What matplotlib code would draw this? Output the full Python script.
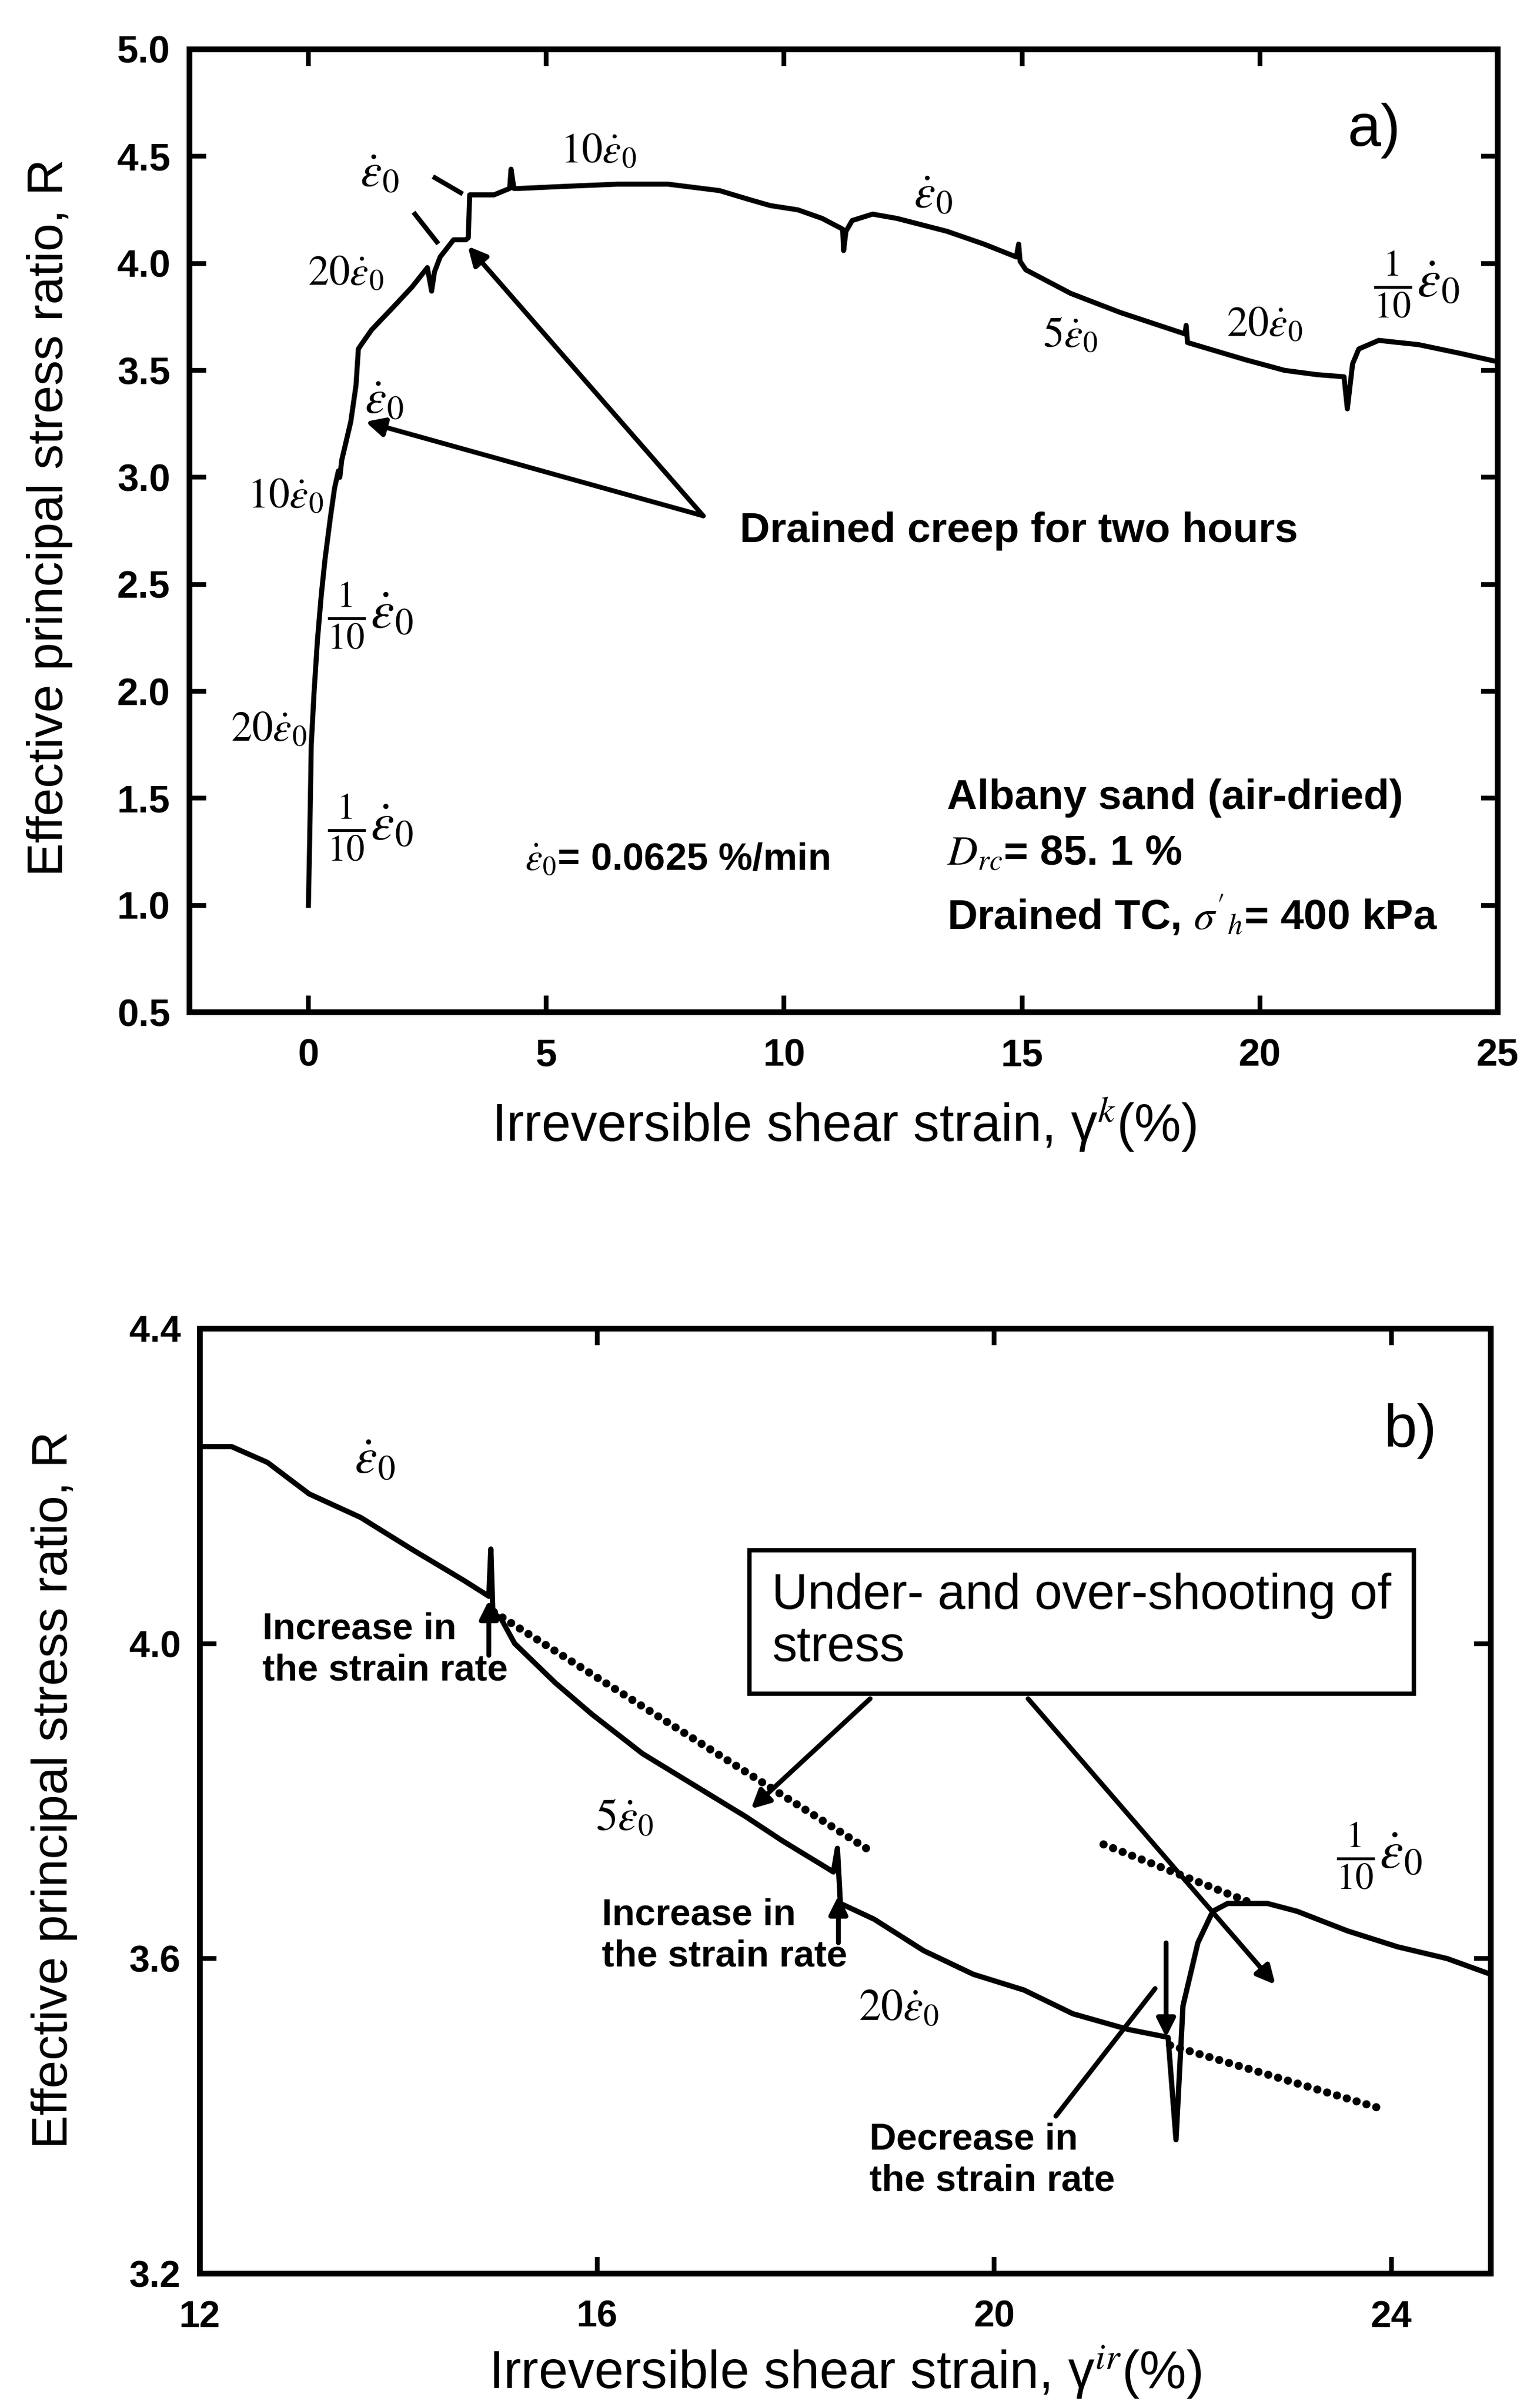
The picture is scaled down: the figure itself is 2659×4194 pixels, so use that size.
import matplotlib
matplotlib.use('Agg')
import matplotlib.pyplot as plt

plt.rcParams['font.family'] = 'Liberation Sans'
plt.rcParams['mathtext.fontset'] = 'stix'

# ---- (a) full test: irreversible shear strain (%) vs stress ratio R
a_strain = [0.00, 0.03, 0.06, 0.12, 0.19, 0.27, 0.35, 0.46, 0.55, 0.63, 0.66, 0.70,
            0.89, 1.00, 1.05, 1.11, 1.33, 1.76, 2.18, 2.50, 2.59, 2.65, 2.77, 3.05,
            3.31, 3.36, 3.39, 3.90, 4.23, 4.26, 4.32, 4.44, 5.41, 6.50, 7.56, 8.64,
            9.24, 9.71, 10.29, 10.80, 11.23, 11.25, 11.30, 11.43, 11.86, 12.37, 13.42,
            14.20, 14.88, 14.93, 14.96, 15.08, 16.02, 17.07, 18.43, 18.45, 18.48,
            19.69, 20.52, 21.20, 21.77, 21.84, 21.95, 22.08, 22.50, 23.34, 24.20, 25.00]
a_ratio = [1.00, 1.35, 1.75, 2.00, 2.24, 2.45, 2.62, 2.81, 2.95, 3.03, 3.00, 3.08,
           3.26, 3.43, 3.60, 3.62, 3.69, 3.79, 3.89, 3.98, 3.87, 3.96, 4.03, 4.11,
           4.11, 4.12, 4.32, 4.32, 4.35, 4.44, 4.35, 4.35, 4.36, 4.37, 4.37, 4.34,
           4.30, 4.27, 4.25, 4.21, 4.16, 4.06, 4.15, 4.20, 4.23, 4.21, 4.15,
           4.09, 4.03, 4.09, 4.01, 3.97, 3.86, 3.77, 3.67, 3.71, 3.63,
           3.55, 3.50, 3.48, 3.47, 3.32, 3.53, 3.60, 3.64, 3.62, 3.58, 3.54]

# rate labels along the curve: (text, strain, R)
a_rate_labels = [
    (r'$\dot{\varepsilon}_0$', 1.50, 4.42),
    (r'$10\dot{\varepsilon}_0$', 6.10, 4.52),
    (r'$20\dot{\varepsilon}_0$', 0.79, 3.95),
    (r'$\dot{\varepsilon}_0$', 1.59, 3.36),
    (r'$10\dot{\varepsilon}_0$', -0.48, 2.91),
    (r'$20\dot{\varepsilon}_0$', -0.83, 1.82),
    (r'$\dot{\varepsilon}_0$', 13.13, 4.32),
    (r'$5\dot{\varepsilon}_0$', 16.02, 3.66),
    (r'$20\dot{\varepsilon}_0$', 20.10, 3.71),
]
a_frac_labels = [(1.31, 2.35), (1.31, 1.36), (23.30, 3.90)]

# creep periods pointed at from the caption
creep_tail = (8.3, 2.82)
creep_tips = [(3.35, 4.08), (1.20, 3.26)]
a_ticks_short = [((2.66, 4.40), (3.20, 4.33)), ((2.24, 4.23), (2.70, 4.10))]

# ---- (b) close-up between 12 % and 25 %
b_strain = [12.00, 12.32, 12.68, 13.10, 13.62, 14.13, 14.66, 14.91, 14.93, 14.95,
            15.04, 15.17, 15.58, 15.95, 16.46, 16.98, 17.50, 17.86, 18.38, 18.42,
            18.45, 18.79, 19.29, 19.79, 20.30, 20.79, 21.35, 21.75, 21.83, 21.90,
            22.05, 22.20, 22.35, 22.75, 23.05, 23.56, 24.06, 24.56, 25.00]
b_ratio = [4.25, 4.25, 4.23, 4.19, 4.16, 4.12, 4.08, 4.06, 4.12, 4.04,
           4.03, 4.00, 3.95, 3.91, 3.86, 3.82, 3.78, 3.75, 3.71, 3.74,
           3.67, 3.65, 3.61, 3.58, 3.56, 3.53, 3.51, 3.50, 3.37, 3.54,
           3.62, 3.66, 3.67, 3.67, 3.66, 3.635, 3.615, 3.60, 3.58]

# extrapolated trends (dotted)
b_trends = [([14.96, 18.71], [4.04, 3.74]),
            ([21.10, 22.60], [3.745, 3.67]),
            ([21.77, 23.88], [3.49, 3.41])]

b_rate_labels = [
    (r'$\dot{\varepsilon}_0$', 13.76, 4.233),
    (r'$5\dot{\varepsilon}_0$', 16.28, 3.778),
    (r'$20\dot{\varepsilon}_0$', 19.04, 3.537),
]
b_frac_label = (23.88, 3.73)

# arrows: (tail, tip)
b_box_arrows = [((18.75, 3.93), (17.55, 3.79)), ((20.34, 3.93), (22.83, 3.567))]
b_rate_arrows = [((14.91, 3.985), (14.91, 4.055)),
                 ((18.43, 3.620), (18.43, 3.680)),
                 ((21.73, 3.620), (21.73, 3.500))]
b_plain_lines = [((20.62, 3.40), (21.62, 3.562))]

fig = plt.figure(figsize=(2659 / 300, 4194 / 300), dpi=300)
ax_a = fig.add_axes([0.1241, 0.5796, 0.8567, 0.3999])
ax_b = fig.add_axes([0.1309, 0.0558, 0.8454, 0.3925])


def style_axes(ax, size):
    for s in ax.spines.values():
        s.set_linewidth(2.4)
    ax.tick_params(direction='in', top=True, right=True, length=7, width=2,
                   labelsize=size)
    ax.tick_params(axis='y', pad=8)
    ax.tick_params(axis='x', pad=11)
    for lab in ax.get_xticklabels() + ax.get_yticklabels():
        lab.set_fontweight('bold')


def arrow(ax, tail, tip, head=True):
    ax.annotate('', xy=tip, xytext=tail,
                arrowprops=dict(arrowstyle='-|>' if head else '-', color='black',
                                lw=2.0, mutation_scale=16, shrinkA=0, shrinkB=0))


def rate_size(txt, big, small):
    # bare strain-rate symbols are set a little larger than the "10x" ones
    return big if txt.startswith(r'$\dot') else small


# panel a
ax_a.plot(a_strain, a_ratio, color='black', lw=2.1)
ax_a.set_xlim(-2.5, 25)
ax_a.set_ylim(0.5, 5.0)
ax_a.set_xticks([0, 5, 10, 15, 20, 25])
ax_a.set_yticks([0.5, 1.0, 1.5, 2.0, 2.5, 3.0, 3.5, 4.0, 4.5, 5.0])
ax_a.set_yticklabels(['%.1f' % v for v in ax_a.get_yticks()])
style_axes(ax_a, 16)

for txt, x, y in a_rate_labels:
    ax_a.text(x, y, txt, fontsize=rate_size(txt, 20, 17.5), ha='center', va='center')
for x, y in a_frac_labels:
    ax_a.text(x, y, r'$\frac{1}{10}\dot{\varepsilon}_0$', fontsize=22,
              ha='center', va='center')
for tip in creep_tips:
    arrow(ax_a, creep_tail, tip)
for p0, p1 in a_ticks_short:
    ax_a.plot([p0[0], p1[0]], [p0[1], p1[1]], color='black', lw=2.0)

ax_a.text(9.07, 2.75, 'Drained creep for two hours', fontsize=17.5,
          fontweight='bold', va='center')
ax_a.text(4.55, 1.21, r'$\dot{\varepsilon}_0$= 0.0625 %/min', fontsize=16,
          fontweight='bold', va='center')
ax_a.text(13.42, 1.50, 'Albany sand (air-dried)', fontsize=17.5,
          fontweight='bold', va='center')
ax_a.text(13.42, 1.24, r'$D_{rc}$= 85. 1 %', fontsize=17.5,
          fontweight='bold', va='center')
ax_a.text(13.42, 0.95, r"Drained TC, $\sigma'_h$= 400 kPa", fontsize=17.5,
          fontweight='bold', va='center')
ax_a.text(22.4, 4.62, 'a)', fontsize=25, ha='center', va='center')

ax_a.set_xlabel('Irreversible shear strain, γ$^{k}$(%)', fontsize=22)
ax_a.set_ylabel('Effective principal stress ratio, R', fontsize=21)
ax_a.xaxis.set_label_coords(0.5, -0.1165)
ax_a.xaxis.label.set_va('center')
ax_a.yaxis.set_label_coords(-0.1067, 0.514)
ax_a.yaxis.label.set_va('center')

# panel b
ax_b.plot(b_strain, b_ratio, color='black', lw=2.2)
for xs, ys in b_trends:
    ax_b.plot(xs, ys, color='black', lw=3.4, linestyle=(0, (0.01, 1.25)),
              dash_capstyle='round')
ax_b.set_xlim(12, 25)
ax_b.set_ylim(3.2, 4.4)
ax_b.set_xticks([12, 16, 20, 24])
ax_b.set_yticks([3.2, 3.6, 4.0, 4.4])
ax_b.set_yticklabels(['%.1f' % v for v in ax_b.get_yticks()])
style_axes(ax_b, 15.5)

for txt, x, y in b_rate_labels:
    ax_b.text(x, y, txt, fontsize=rate_size(txt, 21, 18.5), ha='center', va='center')
ax_b.text(b_frac_label[0], b_frac_label[1], r'$\frac{1}{10}\dot{\varepsilon}_0$',
          fontsize=22, ha='center', va='center')
for tail, tip in b_box_arrows + b_rate_arrows:
    arrow(ax_b, tail, tip)
for tail, tip in b_plain_lines:
    arrow(ax_b, tail, tip, head=False)

for x, y, txt in [(12.63, 4.04, 'Increase in\nthe strain rate'),
                  (16.05, 3.677, 'Increase in\nthe strain rate'),
                  (18.74, 3.392, 'Decrease in\nthe strain rate')]:
    ax_b.text(x, y, txt, fontsize=15.5, fontweight='bold', va='top',
              linespacing=1.25)
ax_b.text(17.76, 4.09, 'Under- and over-shooting of\nstress', fontsize=20.8,
          va='top', linespacing=1.15,
          bbox=dict(boxstyle='square,pad=0.45', fc='white', ec='black', lw=1.8))
ax_b.text(24.19, 4.27, 'b)', fontsize=25, ha='center', va='center')

ax_b.set_xlabel('Irreversible shear strain, γ$^{ir}$(%)', fontsize=22)
ax_b.set_ylabel('Effective principal stress ratio, R', fontsize=21)
ax_b.xaxis.set_label_coords(0.5, -0.1045)
ax_b.xaxis.label.set_va('center')
ax_b.yaxis.set_label_coords(-0.113, 0.512)
ax_b.yaxis.label.set_va('center')

fig.savefig('out.png', dpi=300, facecolor='white')
